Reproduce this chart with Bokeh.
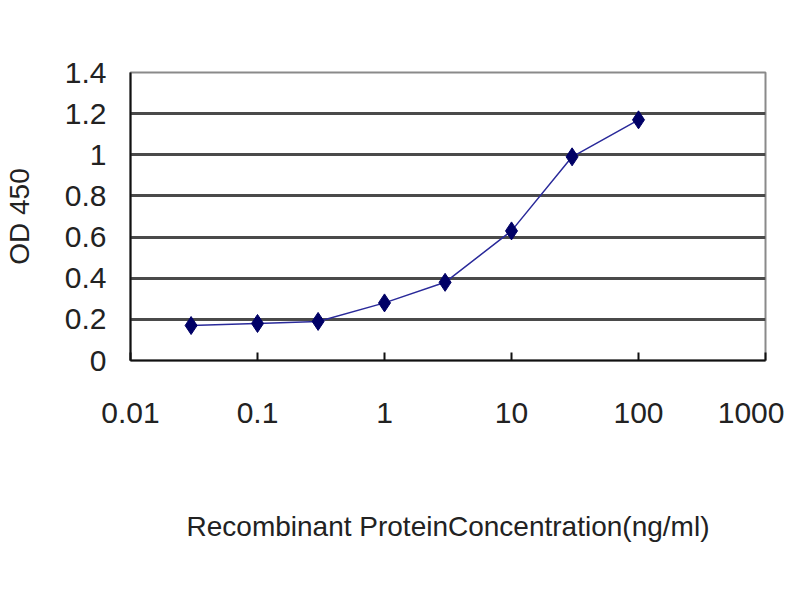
from bokeh.plotting import figure
from bokeh.models import FixedTicker, Range1d
from bokeh.embed import file_html
from bokeh.resources import INLINE

# concentration (ng/ml) and OD 450 readings
conc = [0.03, 0.1, 0.3, 1, 3, 10, 30, 100]
od450 = [0.17, 0.18, 0.19, 0.28, 0.38, 0.63, 0.99, 1.17]

x_ticks = [0.01, 0.1, 1, 10, 100, 1000]
x_labels = ["0.01", "0.1", "1", "10", "100", "1000"]
y_ticks = [0, 0.2, 0.4, 0.6, 0.8, 1.0, 1.2, 1.4]
y_labels = ["0", "0.2", "0.4", "0.6", "0.8", "1", "1.2", "1.4"]

FONT = "'Liberation Sans', Arial, sans-serif"

p = figure(width=784, height=584, x_axis_type="log",
           x_range=Range1d(0.01, 1000), y_range=Range1d(0, 1.4),
           output_backend="svg", toolbar_location=None,
           min_border_left=128, min_border_right=19,
           min_border_top=72, min_border_bottom=224,
           x_axis_label="Recombinant ProteinConcentration(ng/ml)",
           y_axis_label="OD 450")

p.background_fill_color = "white"
p.border_fill_color = "white"
p.outline_line_color = "#8a8a8a"
p.outline_line_width = 2

# gridlines
p.xgrid.visible = False
p.ygrid.ticker = FixedTicker(ticks=y_ticks[1:-1])
p.ygrid.grid_line_color = "#4a4a4a"
p.ygrid.grid_line_width = 3

# x axis
p.xaxis.ticker = FixedTicker(ticks=x_ticks, minor_ticks=[])
p.xaxis.major_label_overrides = dict(zip(x_ticks, x_labels))
p.xaxis.major_tick_in = 8
p.xaxis.major_tick_out = 0
p.xaxis.minor_tick_line_color = None
p.xaxis.major_label_standoff = 42
p.xaxis.axis_label_standoff = 85

# y axis
p.yaxis.ticker = FixedTicker(ticks=y_ticks)
p.yaxis.major_label_overrides = {t: l for t, l in zip(y_ticks, y_labels)}
p.yaxis.minor_tick_line_color = None
p.yaxis.major_tick_in = 0
p.yaxis.major_tick_out = 0
p.yaxis.major_label_standoff = 24
p.yaxis.axis_label_standoff = 27

for ax in (p.xaxis[0], p.yaxis[0]):
    ax.axis_line_color = "#111111"
    ax.axis_line_width = 2
    ax.major_tick_line_width = 2
    ax.major_label_text_font = FONT
    ax.major_label_text_font_size = "30px"
    ax.major_label_text_color = "#222222"
    ax.axis_label_text_font = FONT
    ax.axis_label_text_font_style = "normal"
    ax.axis_label_text_color = "#222222"

p.xaxis.major_tick_line_color = "#111111"
p.yaxis.major_tick_line_color = None
p.xaxis.axis_label_text_font_size = "28px"
p.yaxis.axis_label_text_font_size = "28px"

p.line(conc, od450, line_color="#2a2a9a", line_width=1.5)
p.scatter(conc, od450, marker="diamond", size=18, fill_color="#000066",
          line_color="#000066")

open("out.html", "w").write(file_html(p, INLINE))
